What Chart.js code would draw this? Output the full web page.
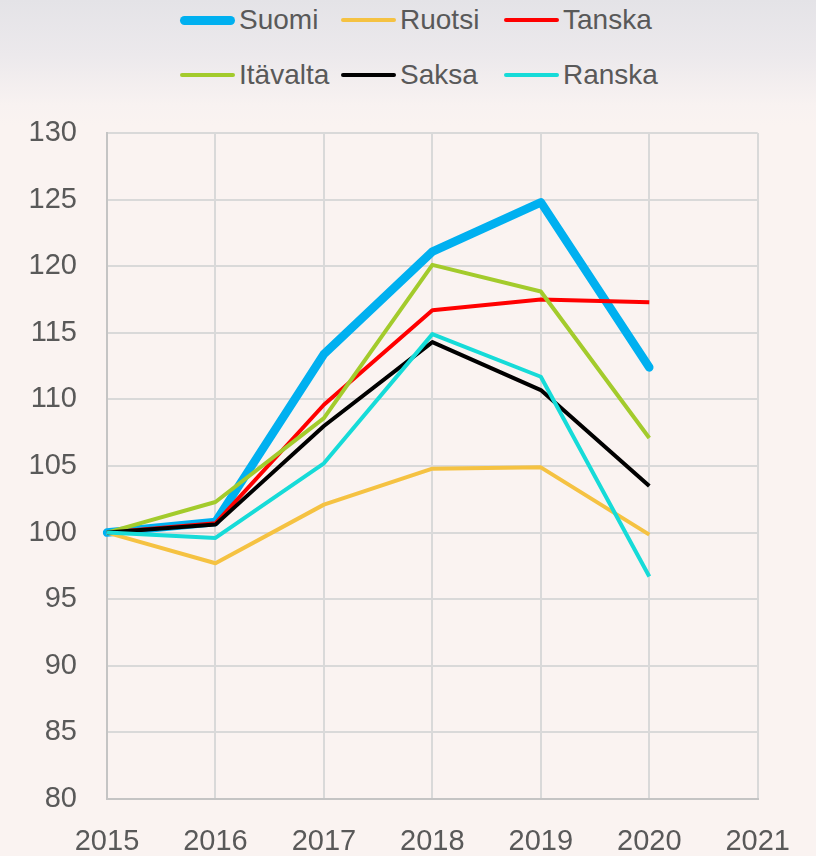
<!DOCTYPE html>
<html>
<head>
<meta charset="utf-8">
<script src="https://cdn.jsdelivr.net/npm/chart.js@4"></script>
<style>
    html, body {
        margin: 0;
        padding: 0;
    }
    body {
        width: 816px;
        height: 856px;
        overflow: hidden;
        position: relative;
        background: linear-gradient(to bottom, #e4e3e7 0px, #ece9ec 55px, #f8f2f1 105px, #faf3f1 125px, #faf3f1 100%);
        font-family: "Liberation Sans", Arial, sans-serif;
    }
    #legend {
        position: absolute;
        left: 180px;
        top: 0;
        width: 500px;
    }
    .legend-row {
        position: absolute;
        left: 0;
        height: 36px;
        width: 500px;
    }
    .legend-item {
        position: absolute;
        top: 0;
        height: 36px;
        display: flex;
        align-items: center;
        color: #595959;
        font-size: 28px;
        white-space: nowrap;
    }
    .legend-line {
        display: inline-block;
        width: 55px;
        margin-right: 4px;
        border-radius: 5px;
    }
    #wrap {
        position: absolute;
        left: 0;
        top: 0;
        width: 816px;
        height: 856px;
    }
</style>
</head>
<body>
<div id="legend"></div>
<div id="wrap"><canvas id="lineChart"></canvas></div>
<script>
// vuodet (x-akseli)
var years = ['2015', '2016', '2017', '2018', '2019', '2020', '2021'];

// indeksi 2015 = 100
var suomi    = [100, 100.8, 113.4, 121.1, 124.8, 112.4];
var ruotsi   = [100, 97.7, 102.1, 104.8, 104.9, 99.85];
var tanska   = [100, 100.7, 109.6, 116.7, 117.5, 117.3];
var itavalta = [100, 102.3, 108.6, 120.1, 118.1, 107.1];
var saksa    = [100, 100.6, 108.0, 114.3, 110.7, 103.5];
var ranska   = [100, 99.6, 105.2, 114.9, 111.7, 96.7];

var names  = ['Suomi', 'Ruotsi', 'Tanska', 'Itävalta', 'Saksa', 'Ranska'];
var series = [suomi, ruotsi, tanska, itavalta, saksa, ranska];
var colors = ['#00b0f0', '#f5c242', '#ff0000', '#a3cb2c', '#000000', '#16dbd8'];
var widths = [8.5, 4, 4, 4, 4, 4];

var datasets = [];
for (var i = 0; i < names.length; i++) {
    datasets.push({
        label: names[i],
        data: series[i],
        borderColor: colors[i],
        backgroundColor: colors[i],
        borderWidth: widths[i],
        pointRadius: 0,
        tension: 0,
        borderJoinStyle: 'round',
        borderCapStyle: i === 0 ? 'round' : 'butt',
        order: names.length - i   // Excel: eka sarja alimmaisena
    });
}

// legenda html:nä, 3 saraketta
var legend = document.getElementById('legend');
var rowTops = [2, 57];
var colLefts = [0, 161, 324];
for (var r = 0; r < 2; r++) {
    var row = document.createElement('div');
    row.className = 'legend-row';
    row.style.top = rowTops[r] + 'px';
    for (var c = 0; c < 3; c++) {
        var k = r * 3 + c;
        var item = document.createElement('div');
        item.className = 'legend-item';
        item.style.left = colLefts[c] + 'px';
        var line = document.createElement('span');
        line.className = 'legend-line';
        line.style.height = (k === 0 ? 9 : 4) + 'px';
        line.style.background = colors[k];
        item.appendChild(line);
        item.appendChild(document.createTextNode(names[k]));
        row.appendChild(item);
    }
    legend.appendChild(row);
}

var ctx = document.getElementById('lineChart').getContext('2d');
var lineChart = new Chart(ctx, {
    type: 'line',
    data: {
        labels: years,
        datasets: datasets
    },
    options: {
        responsive: true,
        maintainAspectRatio: false,
        animation: false,
        layout: {
            padding: { top: 133, right: 58, bottom: 0, left: 0 }
        },
        plugins: {
            legend: { display: false },
            tooltip: { enabled: false }
        },
        scales: {
            x: {
                offset: false,
                grid: { color: '#d9d9d9', lineWidth: 2, drawTicks: false },
                border: { color: '#c4c4c4', width: 2 },
                ticks: {
                    color: '#595959',
                    padding: 26,
                    maxRotation: 0,
                    autoSkip: false,
                    font: { family: '"Liberation Sans", Arial, sans-serif', size: 29 }
                },
                afterFit: function (scale) {
                    scale.height = 57;
                }
            },
            y: {
                min: 80,
                max: 130,
                grid: { color: '#d9d9d9', lineWidth: 2, drawTicks: false },
                border: { color: '#c4c4c4', width: 2 },
                ticks: {
                    stepSize: 5,
                    color: '#595959',
                    padding: 30,
                    font: { family: '"Liberation Sans", Arial, sans-serif', size: 29 }
                },
                afterFit: function (scale) {
                    scale.width = 107;
                }
            }
        }
    }
});
</script>
</body>
</html>
